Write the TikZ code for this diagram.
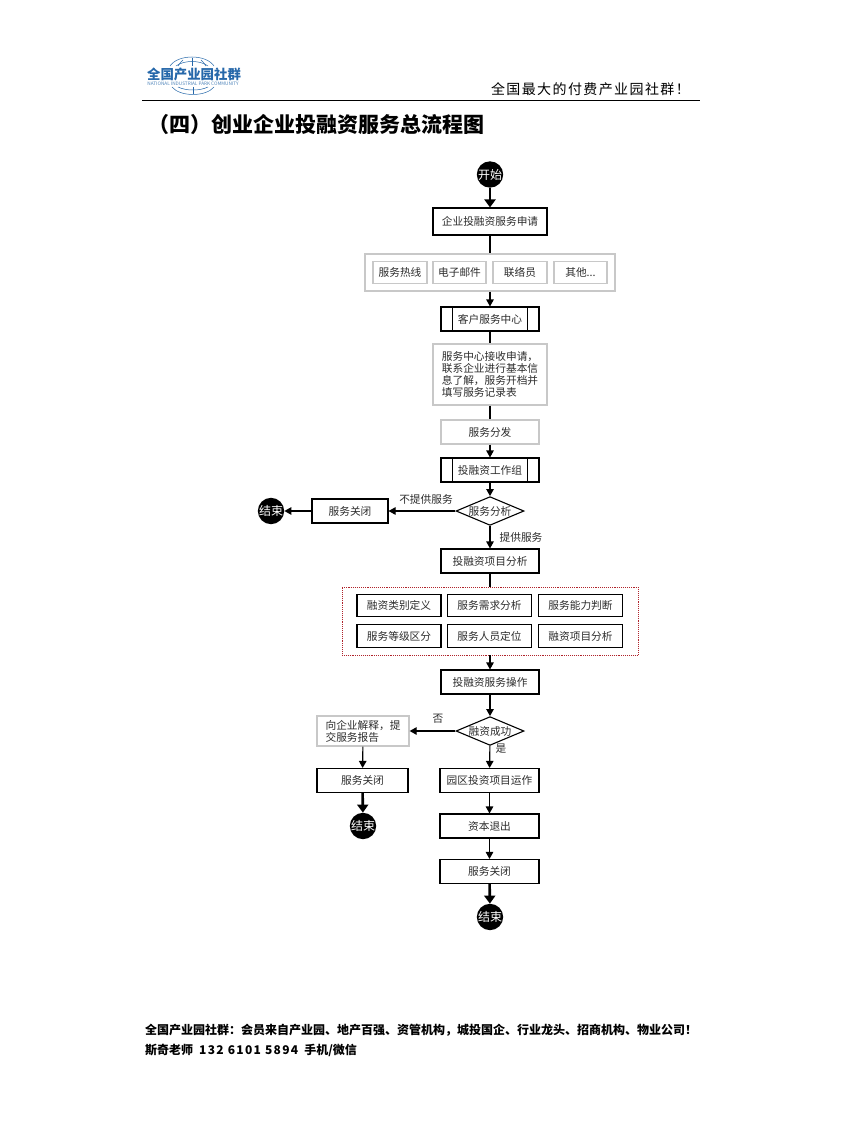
\documentclass[tikz,border=0pt]{standalone}
\usepackage{fontspec}
\setmainfont{Noto Sans CJK SC}
\newfontfamily\slogan[LetterSpace=10]{Noto Sans CJK SC}
\newfontfamily\phonedigits[LetterSpace=11]{Noto Sans CJK SC}
\definecolor{logoblue}{RGB}{38,104,170}
\definecolor{softgray}{RGB}{200,200,200}
\definecolor{textgray}{RGB}{45,45,45}
\definecolor{dotred}{RGB}{176,36,44}
\usetikzlibrary{arrows.meta,shapes.geometric}

\tikzset{
    bodytext/.style={font=\fontsize{10.7}{12}\selectfont, text=textgray, inner sep=0pt},
    flowbox/.style={bodytext, draw=black, line width=1.1pt, minimum height=24pt},
    softbox/.style={bodytext, draw=softgray, line width=1.3pt, minimum height=22pt},
    subbox/.style={flowbox, minimum width=84pt, minimum height=22.5pt},
    endcircle/.style={circle, fill=black, text=white, minimum size=25pt, inner sep=0pt,
          font=\fontsize{12}{12}\selectfont},
    decision/.style={bodytext, diamond, draw=black, line width=1.1pt, aspect=2.27, minimum width=68pt},
    flowline/.style={line width=1.1pt},
    flowarrow/.style={line width=1.1pt, -{Triangle[length=7pt,width=7.5pt]}},
    heavyarrow/.style={line width=2.6pt, -{Triangle[length=8pt,width=11pt]}},
    logoarc/.style={logoblue, line width=0.5pt},
}

\begin{document}
\begin{tikzpicture}[x=1pt,y=-1pt]
    \useasboundingbox[fill=white] (0,0) rectangle (842,1123);

    % page header
    \coordinate (ruleleft) at (142,101);
    \coordinate (ruleright) at (700,101);
    \draw[line width=1pt] (ruleleft) -- (ruleright);
    \draw[logoarc] (170,66) .. controls (178,54) and (206,54) .. (214,66);
    \draw[logoarc] (176,66) .. controls (184,60) and (200,60) .. (208,66);
    \draw[logoarc] (192,58) -- (192,66);
    \draw[logoarc] (183,60) .. controls (181,62) and (179,64) .. (178,66);
    \draw[logoarc] (201,60) .. controls (203,62) and (205,64) .. (206,66);
    \draw[logoarc] (172,87) .. controls (180,97) and (206,97) .. (214,87);
    \draw[logoarc] (178,87) .. controls (186,91) and (200,91) .. (208,87);
    \draw[logoarc] (193,87) -- (193,94);
    \node (logotext) at (194,74) [text=logoblue, inner sep=0pt, font=\fontsize{13.4}{14}\selectfont\bfseries] {全国产业园社群};
    \node (logosub) at (193,84) [text=logoblue!80, inner sep=0pt, font=\fontsize{4.7}{5}\selectfont] {NATIONAL INDUSTRIAL PARK COMMUNITY};
    \node (sloganline) at (690,89) [anchor=east, inner sep=0pt, font=\fontsize{14}{15}\slogan] {全国最大的付费产业园社群！};
    \node (pagetitle) at (148,125) [anchor=west, inner sep=0pt, font=\fontsize{21}{22}\selectfont\bfseries] {（四）创业企业投融资服务总流程图};

    % main column
    \node[endcircle] (start) at (490,174.5) {开始};
    \node[flowbox, minimum width=114pt, minimum height=27pt] (apply) at (490,221.5) {企业投融资服务申请};
    \node[softbox, minimum width=250pt, minimum height=37pt] (channels) at (490,272.5) {};
    \node[softbox, minimum width=54pt] (hotline) at (400,272.5) {服务热线};
    \node[softbox, minimum width=53pt] (email) at (459.5,272.5) {电子邮件};
    \node[softbox, minimum width=54pt] (liaison) at (520,272.5) {联络员};
    \node[softbox, minimum width=53pt] (others) at (580.5,272.5) {其他...};
    \node[flowbox, minimum width=98pt] (center) at (490,319) {客户服务中心};
    \node[softbox, minimum width=114pt, minimum height=61pt, align=left] (receive) at (490,374.5) {服务中心接收申请，\\联系企业进行基本信\\息了解，服务开档并\\填写服务记录表};
    \node[softbox, minimum width=98pt, minimum height=24pt] (dispatch) at (490,432) {服务分发};
    \node[flowbox, minimum width=98pt] (team) at (490,470) {投融资工作组};
    \node[decision] (analysis) at (490,511) {服务分析};
    \node[flowbox, minimum width=76pt] (closeA) at (350,511) {服务关闭};
    \node[endcircle] (endA) at (271,511) {结束};
    \node[flowbox, minimum width=98pt] (project) at (490,561) {投融资项目分析};

    % dotted group
    \node[draw=dotred, densely dotted, line width=0.9pt, minimum width=296pt, minimum height=68pt] (group) at (490,621) {};
    \node[subbox] (kind) at (399,605.5) {融资类别定义};
    \node[subbox] (need) at (489.5,605.5) {服务需求分析};
    \node[subbox] (ability) at (580.5,605.5) {服务能力判断};
    \node[subbox] (grade) at (399,636) {服务等级区分};
    \node[subbox] (staff) at (489.5,636) {服务人员定位};
    \node[subbox] (item) at (580.5,636) {融资项目分析};

    \node[flowbox, minimum width=98pt] (operate) at (490,682) {投融资服务操作};
    \node[decision] (success) at (490,731) {融资成功};
    \node[softbox, minimum width=92pt, minimum height=30pt, align=left] (report) at (363,731) {向企业解释，提\\交服务报告};
    \node[flowbox, minimum width=91pt] (closeB) at (362.5,780.5) {服务关闭};
    \node[endcircle] (endB) at (363,826) {结束};
    \node[flowbox, minimum width=99pt] (run) at (489.5,780.5) {园区投资项目运作};
    \node[flowbox, minimum width=99pt] (exit) at (489.5,826) {资本退出};
    \node[flowbox, minimum width=99pt] (closeC) at (489.5,871.5) {服务关闭};
    \node[endcircle] (endC) at (490,917) {结束};

    % edge labels
    \node[bodytext] (nooffer) at (426,499) {不提供服务};
    \node[bodytext] (offer) at (521,537) {提供服务};
    \node[bodytext] (no) at (438,719) {否};
    \node[bodytext] (yes) at (501,749) {是};

    % bars inside the two process boxes
    \draw[line width=1.1pt] ([xshift=12pt]center.north west) -- ([xshift=12pt]center.south west);
    \draw[line width=1.1pt] ([xshift=-12pt]center.north east) -- ([xshift=-12pt]center.south east);
    \draw[line width=1.1pt] ([xshift=12pt]team.north west) -- ([xshift=12pt]team.south west);
    \draw[line width=1.1pt] ([xshift=-12pt]team.north east) -- ([xshift=-12pt]team.south east);

    % connectors
    \draw[heavyarrow] (start) -- (apply);
    \draw[flowline] (apply) -- (channels);
    \draw[flowarrow] (channels) -- (center);
    \draw[flowline] (center) -- (receive);
    \draw[flowline] (receive) -- (dispatch);
    \draw[flowarrow] (dispatch) -- (team);
    \draw[flowarrow] (team) -- (analysis);
    \draw[flowarrow] (analysis) -- (closeA);
    \draw[flowarrow] (closeA) -- (endA);
    \draw[flowarrow] (analysis) -- (project);
    \draw[flowline] (project) -- (group);
    \draw[flowarrow] (group) -- (operate);
    \draw[flowarrow] (operate) -- (success);
    \draw[flowarrow] (success) -- (report);
    \draw[flowarrow] (report) -- (closeB);
    \draw[heavyarrow] (closeB) -- (endB);
    \draw[flowarrow] (success) -- (run);
    \draw[flowarrow] (run) -- (exit);
    \draw[flowarrow] (exit) -- (closeC);
    \draw[heavyarrow] (closeC) -- (endC);

    % page footer
    \node (footA) at (145,1030) [anchor=west, inner sep=0pt, font=\fontsize{12}{13}\selectfont\bfseries] {全国产业园社群：会员来自产业园、地产百强、资管机构，城投国企、行业龙头、招商机构、物业公司！};
    \node (footB) at (145,1050) [anchor=west, inner sep=0pt, font=\fontsize{12}{13}\selectfont\bfseries] {斯奇老师\hspace{6pt}{\phonedigits 132 6101 5894}\hspace{6pt}手机/微信};
\end{tikzpicture}
\end{document}
